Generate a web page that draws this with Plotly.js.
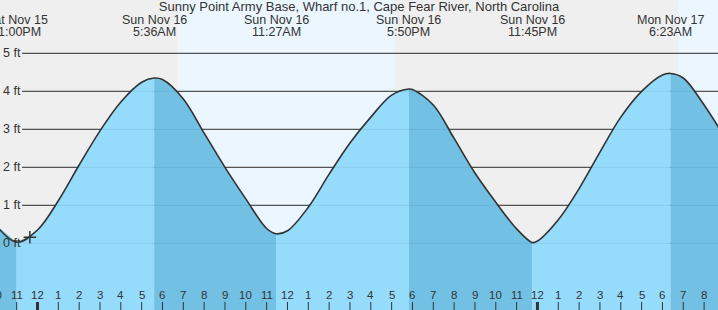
<!DOCTYPE html>
<html>
<head>
<meta charset="utf-8">
<script src="https://cdn.plot.ly/plotly-3.0.1.min.js"></script>
<style>html,body{margin:0;padding:0;background:#efefef;}#chart{width:718px;height:310px;}</style>
</head>
<body>
<div id="chart"></div>
<script>
// ---- data ----
const chartTitle = 'Sunny Point Army Base, Wharf no.1, Cape Fear River, North Carolina';

const curveTimes = [
  '2025-11-15 22:00','2025-11-15 23:00',
  '2025-11-16 00:00','2025-11-16 01:00','2025-11-16 02:00','2025-11-16 03:00','2025-11-16 04:00','2025-11-16 05:00','2025-11-16 05:36',
  '2025-11-16 06:00','2025-11-16 07:00','2025-11-16 08:00','2025-11-16 09:00','2025-11-16 10:00','2025-11-16 11:00','2025-11-16 11:27',
  '2025-11-16 12:00','2025-11-16 13:00','2025-11-16 14:00','2025-11-16 15:00','2025-11-16 16:00','2025-11-16 17:00','2025-11-16 17:50',
  '2025-11-16 18:00','2025-11-16 19:00','2025-11-16 20:00','2025-11-16 21:00','2025-11-16 22:00','2025-11-16 23:00','2025-11-16 23:45',
  '2025-11-17 00:00','2025-11-17 01:00','2025-11-17 02:00','2025-11-17 03:00','2025-11-17 04:00','2025-11-17 05:00','2025-11-17 06:00','2025-11-17 06:23',
  '2025-11-17 07:00','2025-11-17 08:00','2025-11-17 09:00'
];
const curveFt = [
  0.48, 0.03,
  0.35, 1.12, 2.06, 2.96, 3.72, 4.24, 4.35,
  4.31, 3.80, 2.90, 2.00, 1.17, 0.39, 0.25,
  0.33, 0.95, 1.82, 2.64, 3.32, 3.90, 4.06,
  4.05, 3.64, 2.76, 1.85, 1.08, 0.38, 0.02,
  0.06, 0.62, 1.44, 2.40, 3.32, 4.00, 4.43, 4.47,
  4.35, 3.64, 2.78
];

const extremeTimes = ['2025-11-15 23:00','2025-11-16 05:36','2025-11-16 11:27','2025-11-16 17:50','2025-11-16 23:45','2025-11-17 06:23'];
const extremeDates = ['Sat Nov 15','Sun Nov 16','Sun Nov 16','Sun Nov 16','Sun Nov 16','Mon Nov 17'];
const extremeClock = ['11:00PM','5:36AM','11:27AM','5:50PM','11:45PM','6:23AM'];

const sunriseTimes = ['2025-11-16 06:44','2025-11-17 06:45'];
const sunsetTimes  = ['2025-11-16 17:07','2025-11-17 17:06'];

const gridFt = [0, 1, 2, 3, 4, 5];
const gridLabels = ['0 ft','1 ft','2 ft','3 ft','4 ft','5 ft'];

const nowTime = ['2025-11-15 23:38'];
const nowFt = [0.16];

const tickTimes = [
  '2025-11-15 22:00','2025-11-15 23:00',
  '2025-11-16 00:00','2025-11-16 01:00','2025-11-16 02:00','2025-11-16 03:00','2025-11-16 04:00','2025-11-16 05:00',
  '2025-11-16 06:00','2025-11-16 07:00','2025-11-16 08:00','2025-11-16 09:00','2025-11-16 10:00','2025-11-16 11:00',
  '2025-11-16 12:00','2025-11-16 13:00','2025-11-16 14:00','2025-11-16 15:00','2025-11-16 16:00','2025-11-16 17:00',
  '2025-11-16 18:00','2025-11-16 19:00','2025-11-16 20:00','2025-11-16 21:00','2025-11-16 22:00','2025-11-16 23:00',
  '2025-11-17 00:00','2025-11-17 01:00','2025-11-17 02:00','2025-11-17 03:00','2025-11-17 04:00','2025-11-17 05:00',
  '2025-11-17 06:00','2025-11-17 07:00','2025-11-17 08:00'
];
const tickLabels = ['10','11','12','1','2','3','4','5','6','7','8','9','10','11','12','1','2','3','4','5','6','7','8','9','10','11','12','1','2','3','4','5','6','7','8'];

// ---- styling / layout ----
const W = 718, H = 310;
const FONT = 'Liberation Sans, Arial, sans-serif';
const TXT = '#333333';
const NIGHT = '#efefef', DAY = '#ebf6fe';
const RISE = '#95dbfb', FALL = '#72c1e5';
const xRange = ['2025-11-15 22:12', '2025-11-17 08:40'];
const yRange = [-1.755, 6.403];
const yBottom = -3;

const ms = t => Date.parse(t.replace(' ', 'T') + ':00Z');
const toPaperX = t => (ms(t) - ms(xRange[0])) / (ms(xRange[1]) - ms(xRange[0]));

const traces = [];
// fill segments split at extremes (rising = light, falling = dark)
const idx = extremeTimes.map(t => curveTimes.indexOf(t)).filter(i => i > 0 && i < curveTimes.length - 1);
const bounds = [0].concat(idx, [curveTimes.length - 1]);
for (let k = 0; k < bounds.length - 1; k++) {
  const a = bounds[k], b = bounds[k + 1];
  const xs = curveTimes.slice(a, b + 1), ys = curveFt.slice(a, b + 1);
  const rising = ys[ys.length - 1] > ys[0];
  traces.push({x: xs, y: xs.map(() => yBottom), mode: 'lines', line: {width: 0}, hoverinfo: 'skip', showlegend: false});
  traces.push({x: xs, y: ys, mode: 'lines', line: {width: 0, shape: 'spline'}, fill: 'tonexty',
    fillcolor: rising ? RISE : FALL, hoverinfo: 'skip', showlegend: false});
}
// tide curve line
traces.push({x: curveTimes, y: curveFt, mode: 'lines', line: {color: '#333333', width: 1.6, shape: 'spline'},
  hoverinfo: 'skip', showlegend: false});
// current time marker
traces.push({x: nowTime, y: nowFt, mode: 'markers',
  marker: {symbol: 'cross-thin', size: 9, line: {color: '#333333', width: 1.5}}, hoverinfo: 'skip', showlegend: false});

const shapes = [];
sunriseTimes.forEach((t, i) => shapes.push({type: 'rect', xref: 'x', yref: 'paper', x0: t, x1: sunsetTimes[i], y0: 0, y1: 1,
  fillcolor: DAY, line: {width: 0}, layer: 'below'}));
gridFt.forEach(v => shapes.push({type: 'line', xref: 'paper', yref: 'y', x0: 22 / W, x1: 1, y0: v, y1: v,
  line: {color: '#333333', width: 1}, layer: 'below'}));
gridFt.forEach(v => shapes.push({type: 'line', xref: 'paper', yref: 'y', x0: 22 / W, x1: 1, y0: v, y1: v,
  line: {color: 'rgba(0,0,0,0.07)', width: 1}, layer: 'above'}));
tickTimes.forEach(t => shapes.push({type: 'line', xref: 'x', yref: 'paper', x0: t, x1: t, y0: 0, y1: 8 / H,
  line: {color: '#333333', width: t.endsWith('00:00') ? 3 : 1}, layer: 'above'}));

const annotations = [];
gridFt.forEach((v, i) => annotations.push({xref: 'paper', yref: 'y', x: 0, y: v, xanchor: 'left', yanchor: 'middle', xshift: 1,
  text: gridLabels[i], showarrow: false, font: {family: FONT, size: 12.5, color: TXT}}));
extremeTimes.forEach((t, i) => {
  annotations.push({xref: 'paper', yref: 'paper', x: toPaperX(t), y: 1 - 19.7 / H, xanchor: 'center', yanchor: 'middle',
    text: extremeDates[i], showarrow: false, font: {family: FONT, size: 12.5, color: TXT}});
  annotations.push({xref: 'paper', yref: 'paper', x: toPaperX(t), y: 1 - 31.7 / H, xanchor: 'center', yanchor: 'middle',
    text: extremeClock[i], showarrow: false, font: {family: FONT, size: 12.5, color: TXT}});
});
tickTimes.forEach((t, i) => annotations.push({xref: 'paper', yref: 'paper', x: toPaperX(t), y: 1 - 295.3 / H, xanchor: 'center', yanchor: 'middle',
  text: tickLabels[i], showarrow: false, font: {family: FONT, size: 11.5, color: TXT}}));

const layout = {
  width: W, height: H,
  margin: {l: 0, r: 0, t: 0, b: 0, pad: 0},
  paper_bgcolor: NIGHT, plot_bgcolor: NIGHT,
  title: {text: chartTitle, x: 0.5, xanchor: 'center', xref: 'paper', y: 1 - 6.8 / H, yref: 'container', yanchor: 'middle',
    font: {family: FONT, size: 13, color: TXT}},
  xaxis: {type: 'date', range: xRange, visible: false, fixedrange: true},
  yaxis: {range: yRange, visible: false, fixedrange: true},
  showlegend: false,
  shapes: shapes,
  annotations: annotations
};

Plotly.newPlot('chart', traces, layout, {displayModeBar: false, staticPlot: true});
</script>
</body>
</html>
